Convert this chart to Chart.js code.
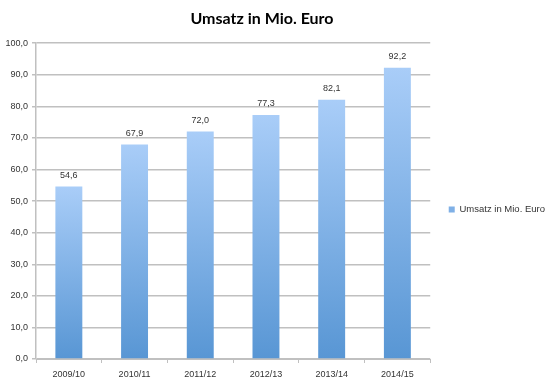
<!DOCTYPE html>
<html>
<head>
<meta charset="utf-8">
<script src="https://cdn.jsdelivr.net/npm/chart.js@4/dist/chart.umd.min.js"></script>
<style>
  html, body { margin: 0; padding: 0; background: #ffffff; }
  #wrap { width: 546px; height: 380px; }
</style>
</head>
<body>
<div id="wrap"><canvas id="umsatz" width="546" height="380"></canvas></div>
<script>
// Daten
var jahre = ['2009/10', '2010/11', '2011/12', '2012/13', '2013/14', '2014/15'];
var umsatz = [54.6, 67.9, 72.0, 77.3, 82.1, 92.2];
var serienName = 'Umsatz in Mio. Euro';
var yMin = 0, yMax = 100, yStep = 10;

function komma(v) {
  return Number(v).toFixed(1).replace('.', ',');
}

// Verlauf pro Balken, oben hell, unten dunkler
function balkenFarbe(ctx) {
  var chart = ctx.chart;
  if (!chart.chartArea || ctx.type !== 'data') return '#7fb0e6';
  var y = chart.scales.y;
  var top = y.getPixelForValue(ctx.raw);
  var bottom = y.getPixelForValue(0);
  var g = chart.ctx.createLinearGradient(0, top, 0, bottom);
  g.addColorStop(0, '#a9cdf8');
  g.addColorStop(1, '#5896d4');
  return g;
}

// Werte ueber den Balken
var werteLabels = {
  id: 'werteLabels',
  afterDatasetsDraw: function(chart) {
    var c = chart.ctx;
    var meta = chart.getDatasetMeta(0);
    c.save();
    c.font = '9px "Liberation Sans"';
    c.fillStyle = '#333333';
    c.textAlign = 'center';
    c.textBaseline = 'bottom';
    meta.data.forEach(function(bar, i) {
      c.fillText(komma(umsatz[i]), bar.x, bar.y - 7);
    });
    c.restore();
  }
};

// Titel etwas nach links, Legende etwas nach rechts (wie im Original)
var verschieben = {
  id: 'verschieben',
  afterLayout: function(chart) {
    if (chart.titleBlock) { chart.titleBlock.left -= 22; }
    if (chart.legend) { chart.legend.left += 9; chart.legend.right += 9; }
  }
};

Chart.defaults.font.family = '"Liberation Sans", sans-serif';
Chart.defaults.color = '#333333';

new Chart(document.getElementById('umsatz'), {
  type: 'bar',
  data: {
    labels: jahre,
    datasets: [{
      label: serienName,
      data: umsatz,
      backgroundColor: balkenFarbe,
      borderWidth: 0,
      categoryPercentage: 1,
      barPercentage: 0.41
    }]
  },
  options: {
    responsive: false,
    animation: false,
    layout: { padding: { left: 0, right: 0, top: 3, bottom: 0 } },
    plugins: {
      title: {
        display: true,
        text: serienName,
        color: '#000000',
        font: { family: 'Lato', size: 16, weight: 'bold' },
        padding: { top: 6, bottom: 15 }
      },
      legend: {
        position: 'right',
        title: { display: true, text: ' ', font: { size: 9 }, padding: { top: 0, bottom: 25 } },
        labels: {
          boxWidth: 6,
          boxHeight: 6,
          padding: 9.5,
          font: { size: 9.5 },
          color: '#333333',
          generateLabels: function(chart) {
            return [{ text: serienName, fillStyle: '#7fb0e6', strokeStyle: '#7fb0e6', lineWidth: 0, datasetIndex: 0 }];
          }
        }
      },
      tooltip: { enabled: false }
    },
    scales: {
      x: {
        afterFit: function(s) { s.height = 21; },
        grid: { drawOnChartArea: false, drawTicks: true, tickLength: 4, color: '#c0c0c0', offset: true },
        border: { display: true, color: '#c0c0c0' },
        ticks: { font: { size: 9 }, color: '#333333', padding: 6 }
      },
      y: {
        min: yMin,
        max: yMax,
        afterFit: function(s) { s.width = 36; },
        ticks: {
          stepSize: yStep,
          font: { size: 9 },
          color: '#333333',
          padding: 4,
          callback: function(v) { return komma(v); }
        },
        grid: { color: '#c0c0c0', lineWidth: 1.5, tickLength: 4 },
        border: { display: true, color: '#c0c0c0', width: 1.5 }
      }
    }
  },
  plugins: [werteLabels, verschieben]
});
</script>
</body>
</html>
